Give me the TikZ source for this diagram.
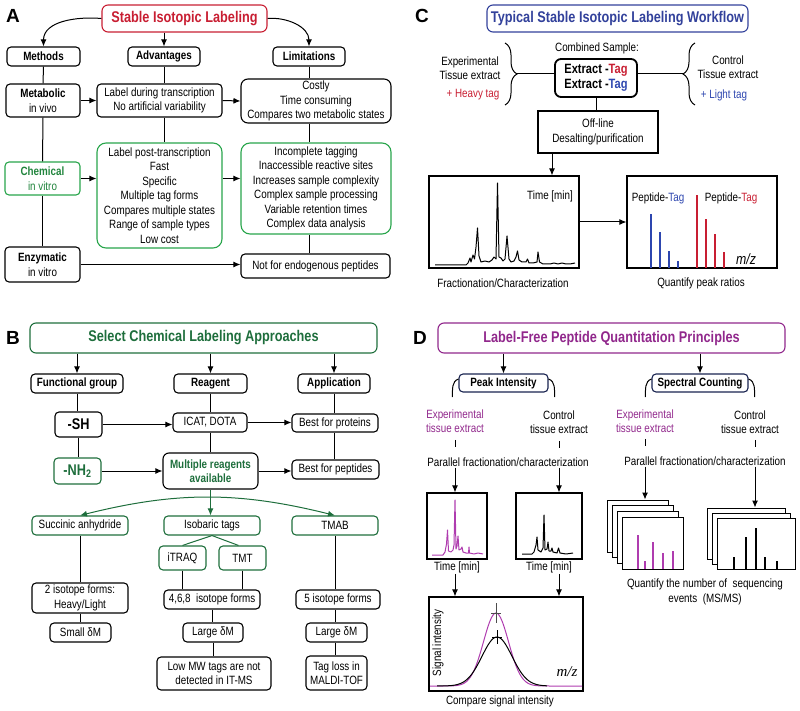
\documentclass[tikz,border=0pt]{standalone}
\usepackage{fontspec}
\setmainfont{Liberation Sans}[FakeStretch=0.82]
\newfontfamily\letterfont{Liberation Sans}
\newfontfamily\mzfont{Liberation Serif}
\usetikzlibrary{positioning, arrows.meta, calc, decorations.pathreplacing}

\definecolor{labred}{RGB}{200,30,50}
\definecolor{agreen}{RGB}{40,165,75}
\definecolor{bgreen}{RGB}{30,110,60}
\definecolor{cblue}{RGB}{50,65,155}
\definecolor{tagblue}{RGB}{45,70,175}
\definecolor{dpurple}{RGB}{145,40,140}
\definecolor{barpurple}{RGB}{175,60,175}
\definecolor{navy}{RGB}{25,35,80}

\begin{document}
\begin{tikzpicture}[x=1pt, y=-1pt, >={Latex[length=7pt,width=6pt]},
    every node/.style={font=\fontsize{12}{14.5}\selectfont, inner sep=1pt},
    box/.style={draw, rounded corners=4pt, line width=1.1pt, align=center},
    gbox/.style={box, draw=agreen},
    bbox/.style={box, draw=bgreen},
    rbox/.style={draw, line width=1.1pt, align=center},
    sz/.style 2 args={minimum width=#1, minimum height=#2},
    head/.style={font=\fontsize{12}{14.5}\selectfont\bfseries},
    title/.style={box, rounded corners=6pt, font=\fontsize{15.5}{18}\selectfont\bfseries},
    letter/.style={font=\fontsize{19}{19}\letterfont\bfseries},
    conn/.style={line width=1pt},
    specframe/.style={draw, fill=white, line width=1pt, minimum width=61, minimum height=52}]
    \useasboundingbox (0,0) rectangle (800,711);

    % A
    \node[letter] (la) at (13,16) {A};
    \node[title, draw=labred, text=labred, sz={165}{27}] (sil) at (184.5,18.5) {Stable Isotopic Labeling};
    \node[box, head, sz={73}{19}] (meth) at (43.5,56.5) {Methods};
    \node[box, head, sz={72}{19}] (adv) at (164,56.5) {Advantages};
    \node[box, head, sz={72}{19}] (lim) at (309,56.5) {Limitations};
    \node[box, sz={74}{33}] (metab) at (43,100.5) {\textbf{Metabolic}\\in vivo};
    \node[box, sz={125}{33}] (advA) at (159.5,100.5) {Label during transcription\\No artificial variability};
    \node[box, rounded corners=7pt, sz={150}{44}] (limA) at (316,101) {Costly\\Time consuming\\Compares two metabolic states};
    \node[gbox, text=agreen!80!black, sz={75}{33}] (chem) at (42.5,178.5) {\textbf{Chemical}\\in vitro};
    \node[gbox, rounded corners=9pt, sz={125}{105}] (advB) at (159.5,195.5) {Label post-transcription\\Fast\\Specific\\Multiple tag forms\\Compares multiple states\\Range of sample types\\Low cost};
    \node[gbox, rounded corners=9pt, sz={150}{91}] (limB) at (316,188.5) {Incomplete tagging\\Inaccessible reactive sites\\Increases sample complexity\\Complex sample processing\\Variable retention times\\Complex data analysis};
    \node[box, sz={75}{35}] (enz) at (42.5,264.5) {\textbf{Enzymatic}\\in vitro};
    \node[box, sz={149}{24}] (limC) at (315.5,266) {Not for endogenous peptides};

    \draw[->, conn] (sil.west) to[out=175, in=90] (meth.north);
    \draw[->, conn] (adv.north |- sil.south) -- (adv.north);
    \draw[->, conn] (sil.east) to[out=5, in=90] (lim.north);
    \draw[conn] (meth.south) -- (metab.north);
    \draw[conn] (adv.south) -- (adv.south |- advA.north);
    \draw[conn] (lim.south) -- (lim.south |- limA.north);
    \draw[->, conn] (metab.east) -- (advA.west);
    \draw[->, conn] (advA.east) -- (limA.west);
    \draw[conn] (metab.south) -- (chem.north);
    \draw[conn] (adv.south |- advA.south) -- (adv.south |- advB.north);
    \draw[conn] (lim.south |- limA.south) -- (lim.south |- limB.north);
    \draw[->, conn] (chem.east) -- (chem.east -| advB.west);
    \draw[->, conn] (chem.east -| advB.east) -- (chem.east -| limB.west);
    \draw[conn] (chem.south) -- (enz.north);
    \draw[->, conn] (enz.east) -- (enz.east -| limC.west);
    \draw[conn] (lim.south |- limB.south) -- (lim.south |- limC.north);

    % C
    \node[letter] (lc) at (422,16) {C};
    \node[title, draw=cblue, text=cblue, sz={261}{27}] (tsil) at (617.5,18.5) {Typical Stable Isotopic Labeling Workflow};
    \node (comb) at (597,48) {Combined Sample:};
    \node[box, line width=1.8pt, rounded corners=6pt, sz={82}{38}, font=\fontsize{13.5}{15.5}\selectfont\bfseries] (ext) at (596,78) {Extract -\textcolor{labred}{Tag}\\Extract -\textcolor{tagblue}{Tag}};
    \node[align=center] (expc) at (470,68) {Experimental\\Tissue extract};
    \node[text=labred] (heavy) at (473,95) {+ Heavy tag};
    \node[align=center] (ctlc) at (728,67) {Control\\Tissue extract};
    \node[text=tagblue] (light) at (724,95) {+ Light tag};
    \coordinate (lbt) at (505,43);
    \coordinate (lbb) at (505,105);
    \coordinate (lbtip) at (517,74);
    \coordinate (rbt) at (695,43);
    \coordinate (rbb) at (695,105);
    \coordinate (rbtip) at (683,74);
    \draw[conn, decorate, decoration={brace, amplitude=12pt}] (lbt) -- (lbb);
    \draw[conn, decorate, decoration={brace, amplitude=12pt}] (rbb) -- (rbt);
    \draw[conn] (lbtip) -- (lbtip -| ext.west);
    \draw[conn] (rbtip) -- (rbtip -| ext.east);
    \node[rbox, sz={120}{42}] (off) at (598,132) {Off-line\\Desalting/purification};
    \draw[conn] (ext.south) -- (ext.south |- off.north);

    \node[rbox, sz={150}{92}] (chromC) at (504,222) {};
    \node[rbox, sz={150}{92}] (specC) at (702,222) {};
    \draw[->, conn] ([xshift=-46pt]off.south) -- ([xshift=-46pt]off.south |- chromC.north);
    \draw[->, conn] (chromC.east) -- (specC.west);
    \node (timeC) at (550,196) {Time [min]};
    \draw[line width=1pt, line join=round] plot coordinates {(435,265) (466,265) (468,263) (470,258) (471,262) (473,255) (474.5,259) (476,247) (477.5,228) (479,256) (481,262) (485,261) (489,262) (492,260) (494,257) (496,259) (497.5,183) (499,257) (501,258) (503,261) (505,259) (507,236) (509,259) (511,262) (514,261) (516,257) (517.5,251) (519,260) (522,262) (526,262) (527.5,259) (529,263) (533,263) (537,262) (538,252) (539.5,262) (543,264) (550,264) (554,263) (558,264) (562,263) (566,264) (570,264) (575,263)};
    \foreach \bx/\by in {651/214, 660/232, 669/251, 678/261}
        \draw[tagblue, line width=1.4pt] (\bx,268) -- (\bx,\by);
    \foreach \bx/\by in {697/195, 706/219, 715/234, 724/252}
        \draw[labred, line width=1.4pt] (\bx,268) -- (\bx,\by);
    \node (ptb) at (658,198) {Peptide-\textcolor{tagblue}{Tag}};
    \node (ptr) at (731,198) {Peptide-\textcolor{labred}{Tag}};
    \node[font=\fontsize{15}{15}\selectfont\itshape] (mzc) at (746,259) {m/z};
    \node (fracC) at (503,283) {Fractionation/Characterization};
    \node (quantC) at (701,283) {Quantify peak ratios};

    % B
    \node[letter] (lb) at (13,338) {B};
    \node[title, draw=bgreen, text=bgreen, sz={347}{30}] (scl) at (203.5,338) {Select Chemical Labeling Approaches};
    \node[box, head, sz={92}{19}] (fg) at (77,383.5) {Functional group};
    \node[box, head, sz={73}{19}] (reag) at (210.5,383.5) {Reagent};
    \node[box, head, sz={72}{19}] (appl) at (334,383.5) {Application};
    \node[box, sz={47}{25}, font=\fontsize{15.5}{17}\selectfont\bfseries] (sh) at (78.5,424.5) {-SH};
    \node[box, sz={74}{19}] (icat) at (210,422.5) {ICAT, DOTA};
    \node[box, sz={86}{18}] (bprot) at (335,423) {Best for proteins};
    \node[bbox, text=bgreen, sz={47}{26}, font=\fontsize{15.5}{17}\selectfont\bfseries] (nh) at (77.5,471) {-NH\textsubscript{2}};
    \node[box, rounded corners=6pt, sz={95}{36}, text=bgreen, head] (multi) at (210.5,471) {Multiple reagents\\available};
    \node[box, sz={87}{19}] (bpep) at (335.5,469.5) {Best for peptides};
    \node[bbox, sz={96}{19}] (succ) at (80,525.5) {Succinic anhydride};
    \node[bbox, sz={96}{19}] (isob) at (212,525.5) {Isobaric tags};
    \node[bbox, sz={86}{19}] (tmab) at (335,525.5) {TMAB};
    \node[bbox, sz={47}{24}] (itraq) at (182.5,558) {iTRAQ};
    \node[bbox, sz={47}{24}] (tmt) at (242.5,558) {TMT};
    \node[box, sz={96}{30}] (iso2) at (80,598) {2 isotope forms:\\Heavy/Light};
    \node[box, sz={96}{19}] (iso468) at (212,599.5) {4,6,8\ \ isotope forms};
    \node[box, sz={84}{19}] (iso5) at (338,599.5) {5 isotope forms};
    \node[box, sz={61}{19}] (sdm) at (80.5,632.5) {Small δM};
    \node[box, sz={60}{19}] (ldm) at (213,632.5) {Large δM};
    \node[box, sz={61}{19}] (ldm2) at (336.5,632.5) {Large δM};
    \node[box, sz={114}{33}] (lowmw) at (214,673.5) {Low MW tags are not\\detected in IT-MS};
    \node[box, sz={61}{34}] (tagloss) at (336.5,673) {Tag loss in\\MALDI-TOF};

    \draw[->, conn] (fg.north |- scl.south) -- (fg.north);
    \draw[->, conn] (reag.north |- scl.south) -- (reag.north);
    \draw[->, conn] (appl.north |- scl.south) -- (appl.north);
    \draw[conn] (fg.south) -- (fg.south |- sh.north);
    \draw[conn] (reag.south) -- (reag.south |- icat.north);
    \draw[conn] (appl.south) -- (appl.south |- bprot.north);
    \draw[->, conn] (sh.east) -- (sh.east -| icat.west);
    \draw[->, conn] (icat.east) -- (icat.east -| bprot.west);
    \draw[conn] (sh.south) -- (sh.south |- nh.north);
    \draw[conn] (icat.south) -- (icat.south |- multi.north);
    \draw[conn] (appl.south |- bprot.south) -- (appl.south |- bpep.north);
    \draw[->, conn] (nh.east) -- (nh.east -| multi.west);
    \draw[->, conn] (multi.east) -- (multi.east -| bpep.west);
    \draw[->, conn, bgreen] (multi.south) -- (multi.south |- isob.north);
    \draw[<->, conn, bgreen] (succ.north) to[bend left=14] (tmab.north);
    \draw[conn, bgreen] (isob.south) -- (itraq.north);
    \draw[conn, bgreen] (isob.south) -- ([xshift=-4pt]tmt.north);
    \draw[conn] (itraq.south) -- (itraq.south |- iso468.north);
    \draw[conn] (tmt.south) -- (tmt.south |- iso468.north);
    \draw[conn] (iso468.south) -- (iso468.south |- ldm.north);
    \draw[conn] (ldm.south) -- (ldm.south |- lowmw.north);
    \draw[conn] (succ.south) -- (succ.south |- iso2.north);
    \draw[conn] (iso2.south) -- (iso2.south |- sdm.north);
    \draw[conn] (tmab.south) -- (tmab.south |- iso5.north);
    \draw[conn] (tmab.south |- iso5.south) -- (tmab.south |- ldm2.north);
    \draw[conn] (tmab.south |- ldm2.south) -- (tmab.south |- tagloss.north);

    % D
    \node[letter] (ld) at (420,338) {D};
    \node[title, draw=dpurple, text=dpurple, sz={347}{30}] (lfq) at (611.5,338) {Label-Free Peptide Quantitation Principles};
    \node[box, head, draw=navy, sz={89}{18}] (peak) at (503.5,383) {Peak Intensity};
    \node[box, head, draw=navy, sz={96}{18}] (spc) at (700,383) {Spectral Counting};
    \draw[->, conn] (peak.north |- lfq.south) -- (peak.north);
    \draw[->, conn] (spc.north |- lfq.south) -- (spc.north);
    \draw[conn] ([yshift=4pt]peak.west) to[out=200, in=90] ([xshift=-6pt, yshift=-14pt]peak.west);
    \draw[conn] ([yshift=4pt]peak.east) to[out=-20, in=90] ([xshift=6pt, yshift=-14pt]peak.east);
    \draw[conn] ([yshift=4pt]spc.west) to[out=200, in=90] ([xshift=-6pt, yshift=-14pt]spc.west);
    \draw[conn] ([yshift=4pt]spc.east) to[out=-20, in=90] ([xshift=6pt, yshift=-14pt]spc.east);

    \node[align=center, text=dpurple] (expP) at (455,421) {Experimental\\tissue extract};
    \node[align=center] (ctlP) at (559,422) {Control\\tissue extract};
    \node[align=center, text=dpurple] (expS) at (645,421) {Experimental\\tissue extract};
    \node[align=center] (ctlS) at (750,422) {Control\\tissue extract};
    \coordinate (ctlSx) at ([xshift=5pt]ctlS.south);
    \draw[conn] ([yshift=-6pt]expP.south) -- ([yshift=-13pt]expP.south);
    \draw[conn] ([yshift=-6pt]ctlP.south) -- ([yshift=-13pt]ctlP.south);
    \draw[conn] ([yshift=-5pt]expS.south) -- ([yshift=-12pt]expS.south);
    \draw[conn] ([yshift=-5pt]ctlSx) -- ([yshift=-12pt]ctlSx);
    \node (par1) at (508,462) {Parallel fractionation/characterization};
    \node (par2) at (705,461) {Parallel fractionation/characterization};

    \node[rbox, sz={60}{66}] (chP) at (457,526) {};
    \node[rbox, sz={66}{66}] (chK) at (549,526) {};
    \draw[->, conn] (expP.south |- par1.south) -- (expP.south |- chP.north);
    \draw[->, conn] (ctlP.south |- par1.south) -- (ctlP.south |- chK.north);
    \draw[barpurple, line width=1pt, line join=round] plot coordinates {(432,555) (443,555) (445,552) (446.5,544) (447.5,530) (448.5,551) (451,552) (453,550) (454,545) (455,500) (456,549) (457,546) (458,536) (459,550) (461,549) (462,547) (463,552) (466,553) (468.5,553) (469,547) (469.5,553) (474,554) (478,553) (483,554)};
    \draw[line width=1pt, line join=round] plot coordinates {(522,554) (532,554) (534,552) (536,545) (537,537) (538,550) (541,552) (543,548) (544,515) (545,550) (547,549) (548,542) (549,551) (551,551) (552,548) (553,552) (557,553) (558.5,548) (560,553) (566,554) (573,553)};
    \node (tP) at (457,567) {Time [min]};
    \node (tK) at (549,567) {Time [min]};

    \node[rbox, sz={154}{94}] (sig) at (506,644) {};
    \draw[->, conn] (expP.south |- tP.south) -- (expP.south |- sig.north);
    \draw[->, conn] (ctlP.south |- tK.south) -- (ctlP.south |- sig.north);
    \draw[barpurple, line width=1pt] plot[domain=430:582, samples=100, smooth] (\x, {686-73*exp(-((\x-496)/12.5)*((\x-496)/12.5)/2)});
    \draw[line width=1pt] plot[domain=437:547, samples=80, smooth] (\x, {686-49*exp(-((\x-497)/15)*((\x-497)/15)/2)});
    \draw[conn, black!70] (496,603) -- (496,623);
    \draw[conn, black!70] (491,613) -- (501,613);
    \draw[conn] (497,630) -- (497,644);
    \draw[conn] (492,637) -- (502,637);
    \node[rotate=90] (sigi) at (438,643) {Signal intensity};
    \node[font=\fontsize{15}{15}\mzfont\itshape] (mzd) at (567,672) {m/z};
    \node (cmp) at (500,701) {Compare signal intensity};

    \foreach \i in {0,...,3}
        \node[specframe] (pf\i) at ({637.5+5*\i},{526+5.7*\i}) {};
    \foreach \i in {0,...,2}
        \node[specframe, minimum width=78, minimum height=51] (kf\i) at ({746+5*\i},{533.5+5*\i}) {};
    \draw[->, conn] (expS.south |- par2.south) -- (expS.south |- pf0.north);
    \draw[->, conn] (ctlSx |- par2.south) -- (ctlSx |- kf0.north);
    \foreach \bx/\by in {638/535, 645/561, 653/542, 663/553, 673/551}
        \draw[barpurple, line width=1.8pt] (\bx,569) -- (\bx,\by);
    \foreach \bx/\by in {734/557, 746/537, 756/528, 765/557, 777/561}
        \draw[line width=1.5pt] (\bx,569) -- (\bx,\by);
    \node[align=center] (qnt) at (705,592) {Quantify the number of\ \ sequencing\\events\ \ (MS/MS)};
\end{tikzpicture}
\end{document}
